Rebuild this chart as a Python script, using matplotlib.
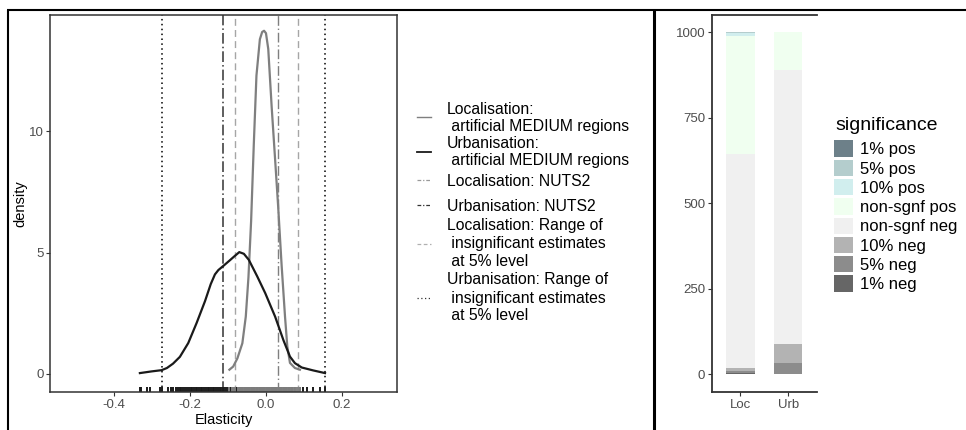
import matplotlib.pyplot as plt
from matplotlib.lines import Line2D
from matplotlib.patches import Patch

plt.rcParams['font.family'] = ['Liberation Sans', 'DejaVu Sans']

# ---- density of estimated elasticities (artificial MEDIUM regions) ----
loc_x = [-0.096, -0.086, -0.075, -0.062, -0.053, -0.046, -0.039, -0.032, -0.025,
         -0.016, -0.010, -0.005, 0.000, 0.006, 0.015, 0.024, 0.032, 0.041,
         0.050, 0.056, 0.063, 0.076, 0.089]
loc_y = [0.17, 0.30, 0.64, 1.26, 2.36, 3.98, 6.30, 9.45, 12.3,
         13.8, 14.1, 14.15, 14.05, 13.4, 11.0, 8.84, 6.90, 4.50,
         2.36, 1.13, 0.45, 0.24, 0.17]

urb_x = [-0.331, -0.300, -0.274, -0.260, -0.244, -0.226, -0.204, -0.182,
         -0.160, -0.145, -0.134, -0.125, -0.112, -0.095, -0.082, -0.070,
         -0.058, -0.045, -0.023, -0.002, 0.024, 0.046, 0.063, 0.076, 0.094,
         0.124, 0.155]
urb_y = [0.03, 0.10, 0.15, 0.24, 0.42, 0.70, 1.27, 2.10,
         3.00, 3.70, 4.10, 4.28, 4.45, 4.68, 4.86, 5.02,
         4.95, 4.70, 4.02, 3.33, 2.36, 1.38, 0.71, 0.44, 0.26,
         0.14, 0.03]

# individual estimates shown as rugs
urb_rug = [-0.331, -0.327, -0.313, -0.305, -0.279, -0.274, -0.257, -0.250, -0.244,
           -0.235, -0.231, -0.226, -0.222, -0.217, -0.212, -0.207, -0.203, -0.198,
           -0.194, -0.189, -0.185, -0.180, -0.176, -0.171, -0.167, -0.162, -0.158,
           -0.153, -0.149, -0.145, -0.140, -0.136, -0.131, -0.127, -0.122, -0.118,
           -0.114, -0.109, -0.105, -0.100, -0.096, -0.091, -0.087, -0.083, -0.078,
           -0.074, -0.069, -0.065, -0.061, -0.056, -0.052, -0.047, -0.043, -0.038,
           -0.034, -0.030, -0.025, -0.021, -0.016, -0.012, -0.008, -0.003, 0.001,
           0.006, 0.010, 0.015, 0.019, 0.024, 0.028, 0.033, 0.037, 0.042, 0.046,
           0.051, 0.055, 0.060, 0.064, 0.069, 0.077, 0.089, 0.098, 0.107, 0.124,
           0.142, 0.155]
loc_rug = [-0.096, -0.090, -0.086, -0.080, -0.074, -0.070, -0.066, -0.061, -0.057,
           -0.052, -0.048, -0.043, -0.039, -0.034, -0.030, -0.026, -0.021, -0.017,
           -0.012, -0.008, -0.003, 0.001, 0.005, 0.010, 0.014, 0.019, 0.023, 0.028,
           0.032, 0.036, 0.041, 0.045, 0.050, 0.054, 0.059, 0.063, 0.067, 0.072,
           0.076, 0.080, 0.084, 0.089]

# reference lines
loc_nuts2 = 0.032
urb_nuts2 = -0.114
loc_range = [-0.081, 0.085]
urb_range = [-0.272, 0.155]

# ---- significance of estimates out of 1000 draws ----
sig_levels = ['1% pos', '5% pos', '10% pos', 'non-sgnf pos',
              'non-sgnf neg', '10% neg', '5% neg', '1% neg']
sig_colors = ['#6d8089', '#b4cdcd', '#d1eeee', '#f0fff0',
              '#f0f0f0', '#b3b3b3', '#8c8c8c', '#666666']
bar_cats = ['Loc', 'Urb']
loc_counts = [0, 3, 6, 347, 627, 7, 6, 4]
urb_counts = [0, 0, 0, 111, 801, 55, 33, 0]

LOC_COL = '#7f7f7f'
URB_COL = '#1a1a1a'
W, H = 966, 430

fig = plt.figure(figsize=(W / 100, H / 100), dpi=100)
ax = fig.add_axes([50 / W, 1 - 392 / H, 347 / W, 377 / H])
ax2 = fig.add_axes([711.7 / W, 1 - 392 / H, 105 / W, 377 / H])

# left panel: densities
ax.plot(loc_x, loc_y, color=LOC_COL, lw=1.6, zorder=3)
ax.plot(urb_x, urb_y, color=URB_COL, lw=1.6, zorder=3)

ax.axvline(loc_nuts2, color=LOC_COL, lw=1.0, ls=(0, (7, 2, 1, 2)))
ax.axvline(urb_nuts2, color='#333333', lw=1.1, ls=(0, (7, 2, 1, 2)))
for v in loc_range:
    ax.axvline(v, color='#a6a6a6', lw=1.0, ls=(0, (5, 3)))
for v in urb_range:
    ax.axvline(v, color='black', lw=1.1, ls=(0, (1, 2.2)))

rug_tr = ax.get_xaxis_transform()
ax.vlines(urb_rug, 0, 0.014, transform=rug_tr, color=URB_COL, lw=1.4)
ax.vlines(loc_rug, 0, 0.014, transform=rug_tr, color=LOC_COL, lw=1.4)

ax.set_xlim(-0.567, 0.344)
ax.set_ylim(-0.75, 14.8)
ax.set_xticks([-0.4, -0.2, 0.0, 0.2])
ax.set_xticklabels(['-0.4', '-0.2', '0.0', '0.2'])
ax.set_yticks([0, 5, 10])
ax.set_xlabel('Elasticity', fontsize=10.5, labelpad=2)
ax.set_ylabel('density', fontsize=10.5, labelpad=1)
for s in ax.spines.values():
    s.set_color('#333333')
    s.set_linewidth(1.1)
ax.tick_params(direction='out', length=2.7, width=0.8, color='#333333',
               labelcolor='#4d4d4d', labelsize=9.5, pad=2)

# line legend, laid out by hand in pixel rows
legend_rows = [
    (LOC_COL, 1.0, '-', 117, [(109, 'Localisation:'), (126, ' artificial MEDIUM regions')]),
    (URB_COL, 1.3, '-', 152, [(143, 'Urbanisation:'), (160.5, ' artificial MEDIUM regions')]),
    ('#999999', 0.9, (0, (3, 1.5, 1, 1.5)), 180, [(181, 'Localisation: NUTS2')]),
    ('#333333', 0.9, (0, (3, 1.5, 1, 1.5)), 205, [(206.5, 'Urbanisation: NUTS2')]),
    ('#b0b0b0', 0.9, (0, (3, 2)), 244, [(225.5, 'Localisation: Range of'),
                                        (244, ' insignificant estimates'),
                                        (262, ' at 5% level')]),
    ('#333333', 0.9, (0, (1, 2)), 298, [(279.5, 'Urbanisation: Range of'),
                                        (298, ' insignificant estimates'),
                                        (315.5, ' at 5% level')]),
]
for col, lw, ls, key_y, lines in legend_rows:
    fig.add_artist(Line2D([417 / W, 431 / W], [1 - key_y / H] * 2, transform=fig.transFigure,
                          color=col, lw=lw, ls=ls))
    for y, txt in lines:
        fig.text(447 / W, 1 - y / H, txt, fontsize=11.3, ha='left', va='center')

# right panel: stacked bars, bottom level first
xpos = [1, 2]
bottoms = [0, 0]
for lvl, col, a, b in reversed(list(zip(sig_levels, sig_colors, loc_counts, urb_counts))):
    ax2.bar(xpos, [a, b], bottom=bottoms, width=0.6, color=col, edgecolor='none')
    bottoms = [bottoms[0] + a, bottoms[1] + b]

ax2.set_xlim(0.4, 2.6)
ax2.set_ylim(-52, 1051)
ax2.set_xticks(xpos)
ax2.set_xticklabels(bar_cats)
ax2.set_yticks([0, 250, 500, 750, 1000])
ax2.spines['right'].set_visible(False)
for s in ['left', 'bottom', 'top']:
    ax2.spines[s].set_color('#333333')
    ax2.spines[s].set_linewidth(1.3)
ax2.tick_params(direction='out', length=2.7, width=0.8, color='#333333',
                labelcolor='#4d4d4d', labelsize=9.5, pad=2)

fig.text(835 / W, 1 - 125 / H, 'significance', fontsize=14, ha='left', va='center')
sig_handles = [Patch(facecolor=c, edgecolor='none') for c in sig_colors]
fig.legend(sig_handles, sig_levels, loc='upper left', bbox_to_anchor=(834 / W, 1 - 140.5 / H),
           frameon=False, fontsize=12, handlelength=1.15, handleheight=1.12,
           handletextpad=0.4, labelspacing=0.15, borderpad=0, borderaxespad=0)

# outer frame and divider
frame = dict(transform=fig.transFigure, color='black', solid_capstyle='butt')
fig.add_artist(Line2D([7 / W, 1], [1 - 9.5 / H] * 2, lw=1.5, **frame))
fig.add_artist(Line2D([7.5 / W] * 2, [0, 1 - 9.5 / H], lw=1.5, **frame))
fig.add_artist(Line2D([653.5 / W] * 2, [0, 1 - 9.5 / H], lw=2.2, **frame))

fig.savefig('out.png', dpi=100)
